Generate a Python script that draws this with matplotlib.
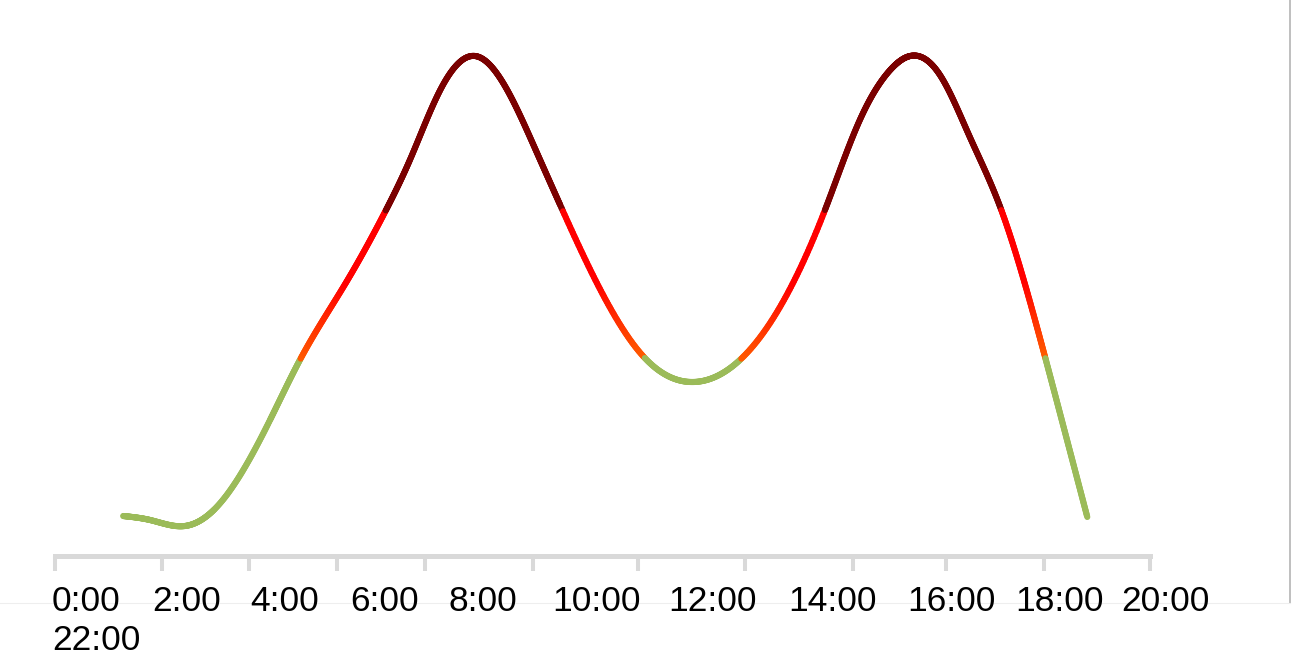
import numpy as np
import matplotlib
matplotlib.use("Agg")
import matplotlib.pyplot as plt
from matplotlib.collections import LineCollection
from matplotlib.lines import Line2D

# hours of day and congestion-like level
hours = [1.37, 1.91, 2.61, 3.21, 4.32, 4.92, 5.83, 6.63, 7.13, 7.74, 8.44,
         9.04, 9.64, 10.15, 11.85, 12.82, 13.76, 15.47, 16.17,
         16.78, 17.18, 17.78, 18.38, 18.99, 19.69, 20.19, 20.74]
level = [8.4, 7.6, 6.4, 9.8, 27.6, 39.6, 54.8, 69.2, 79.6, 93.6, 100.4,
         94.4, 82.0, 70.6, 40.0, 35.2, 39.6, 69.6, 87.6, 97.6,
         100.4, 96.6, 84.2, 70.2, 47.6, 29.0, 8.2]
tick_labels = ["0:00", "2:00", "4:00", "6:00", "8:00", "10:00", "12:00",
               "14:00", "16:00", "18:00", "20:00", "22:00"]

W, H = 1299, 664


def smooth(x, y, n=60):
    # natural cubic spline through the points
    x = np.asarray(x, float)
    y = np.asarray(y, float)
    k = len(x)
    h = np.diff(x)
    A = np.zeros((k, k))
    b = np.zeros(k)
    A[0, 0] = 1
    A[-1, -1] = 1
    for i in range(1, k - 1):
        A[i, i - 1] = h[i - 1]
        A[i, i] = 2 * (h[i - 1] + h[i])
        A[i, i + 1] = h[i]
        b[i] = 6 * ((y[i + 1] - y[i]) / h[i] - (y[i] - y[i - 1]) / h[i - 1])
    M = np.linalg.solve(A, b)
    xs, ys = [], []
    for i in range(k - 1):
        t = np.linspace(x[i], x[i + 1], n, endpoint=False)
        a = x[i + 1] - t
        c = t - x[i]
        s = (M[i] * a**3 + M[i + 1] * c**3) / (6 * h[i]) \
            + (y[i] / h[i] - M[i] * h[i] / 6) * a \
            + (y[i + 1] / h[i] - M[i + 1] * h[i] / 6) * c
        xs.append(t)
        ys.append(s)
    xs.append([x[-1]])
    ys.append([y[-1]])
    return np.concatenate(xs), np.concatenate(ys)


def level_color(v):
    if v >= 69.5:
        return (0.48, 0.0, 0.0)
    if v >= 40:
        f = min(max((v - 40) / 15.0, 0), 1)
        return (1.0, (90 / 255.0) * (1 - f), 0.0)
    return (155 / 255.0, 187 / 255.0, 89 / 255.0)


def Chart():
    fig = plt.figure(figsize=(W / 100, H / 100), dpi=100)
    ax = fig.add_axes([55 / W, 1 - 558 / H, (1150 - 55) / W, 550 / H])
    ax.set_xlim(0, 22)
    ax.set_ylim(0, 110)

    xs, ys = smooth(hours, level)
    pts = np.column_stack([xs, ys]).reshape(-1, 1, 2)
    segs = np.concatenate([pts[:-1], pts[1:]], axis=1)
    mids = (ys[:-1] + ys[1:]) / 2
    lc = LineCollection(segs, colors=[level_color(v) for v in mids],
                        linewidths=4.4, capstyle="round", joinstyle="round")
    lc.set_clip_on(False)
    ax.add_collection(lc)

    # grey axis bar with ticks
    for s in ["top", "right", "left"]:
        ax.spines[s].set_visible(False)
    ax.spines["bottom"].set_position(("data", 0.5))
    ax.spines["bottom"].set_color("#d9d9d9")
    ax.spines["bottom"].set_linewidth(3.6)
    ax.set_yticks([])
    tick_pos = [0, 2.15, 3.9, 5.67, 7.43, 9.6, 11.71, 13.86, 16.03, 17.9, 19.87, 22]
    ax.set_xticks(tick_pos)
    ax.tick_params(axis="x", direction="out", length=11, width=2.9,
                   color="#d9d9d9", labelbottom=False)

    # labels flow under the axis, last one wraps
    label_x = [52, 152, 250, 350, 448, 552, 668, 788, 907, 1015, 1121, 52]
    for i, lab in enumerate(tick_labels):
        base = 611 if i < 11 else 650
        fig.text(label_x[i] / W, 1 - base / H, lab, fontsize=25.5,
                 family=["Liberation Sans", "DejaVu Sans"], color="black",
                 ha="left", va="baseline")

    # frame pieces at the right and bottom
    fig.add_artist(Line2D([1290 / W, 1290 / W], [1, 1 - 603 / H],
                          color="#b4b4b4", linewidth=1.2))
    fig.add_artist(Line2D([0, 1290 / W], [1 - 603 / H, 1 - 603 / H],
                          color="#eeeeee", linewidth=0.8))

    fig.savefig("out.png", dpi=100)


def main():
    Chart()


if __name__ == "__main__":
    main()
